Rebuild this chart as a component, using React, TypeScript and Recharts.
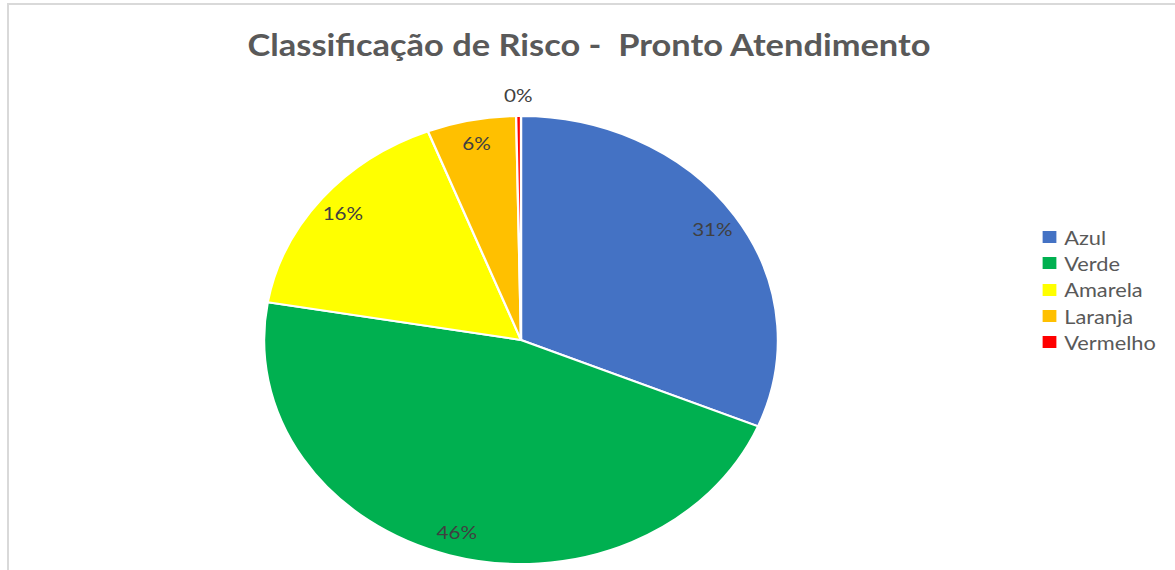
import React from "react";
import { PieChart, Pie, Cell, Legend } from "recharts";

const categories = ["Azul", "Verde", "Amarela", "Laranja", "Vermelho"];
const shares = [31.3, 46.4, 16.4, 5.6, 0.3];
const colors = ["#4472C4", "#00B050", "#FFFF00", "#FFC000", "#FF0000"];

const data = categories.map((name, i) => ({ name, value: shares[i] }));

// the original picture is stretched sideways, so draw at a narrower width and scale
const SX = 1.147;
const W = 1175 / SX;
const H = 570;
const FONT = "Lato, 'Open Sans', sans-serif";
const RAD = Math.PI / 180;

const renderLabel = (props: any) => {
  const { cx, cy, midAngle, outerRadius, percent } = props;
  const r = percent < 0.01 ? outerRadius * 1.095 : outerRadius * 0.895;
  const x = cx + r * Math.cos(-midAngle * RAD);
  const y = cy + r * Math.sin(-midAngle * RAD);
  return (
    <text
      x={x}
      y={y}
      textAnchor="middle"
      dominantBaseline="central"
      fill="#404040"
      fontSize={18}
      fontFamily={FONT}
    >
      {`${Math.round(percent * 100)}%`}
    </text>
  );
};

const renderLegend = (props: any) => {
  const items = [...(props.payload || [])].sort(
    (a: any, b: any) => categories.indexOf(a.value) - categories.indexOf(b.value)
  );
  return (
    <div style={{ fontFamily: FONT, fontSize: 19, color: "#595959" }}>
      {items.map((entry: any) => (
        <div
          key={entry.value}
          style={{ display: "flex", alignItems: "center", height: 26.3 }}
        >
          <span
            style={{
              display: "inline-block",
              width: 11.5,
              height: 12,
              background: entry.color,
              marginRight: 7,
            }}
          />
          <span>{entry.value}</span>
        </div>
      ))}
    </div>
  );
};

export default function App() {
  return (
    <div
      style={{
        position: "absolute",
        left: 0,
        top: 0,
        width: 1175,
        height: H,
        overflow: "hidden",
        background: "#fff",
      }}
    >
      <div
        style={{
          position: "absolute",
          left: 7,
          top: 3,
          width: 1400,
          height: 800,
          borderLeft: "2px solid #d9d9d9",
          borderTop: "2px solid #d9d9d9",
        }}
      />
      <div
        style={{
          position: "absolute",
          left: 0,
          top: 0,
          width: W,
          height: H,
          transform: `scaleX(${SX})`,
          transformOrigin: "0 0",
        }}
      >
        <div
          style={{
            position: "absolute",
            left: 0,
            top: 26,
            width: 1027,
            textAlign: "center",
            fontFamily: FONT,
            fontWeight: 700,
            fontSize: 30,
            color: "#595959",
            whiteSpace: "pre",
          }}
        >
          {"Classificação de Risco -  Pronto Atendimento"}
        </div>
        <PieChart width={W} height={H} margin={{ top: 0, right: 0, bottom: 0, left: 0 }}>
          <Pie
            data={data}
            dataKey="value"
            nameKey="name"
            cx={521 / SX}
            cy={340}
            outerRadius={224}
            startAngle={90}
            endAngle={-270}
            stroke="#fff"
            strokeWidth={2}
            label={renderLabel}
            labelLine={false}
            isAnimationActive={false}
          >
            {data.map((d, i) => (
              <Cell key={d.name} fill={colors[i]} />
            ))}
          </Pie>
          <Legend
            layout="vertical"
            content={renderLegend}
            wrapperStyle={{ position: "absolute", left: 1043 / SX, top: 224, width: 130 }}
          />
        </PieChart>
      </div>
    </div>
  );
}
